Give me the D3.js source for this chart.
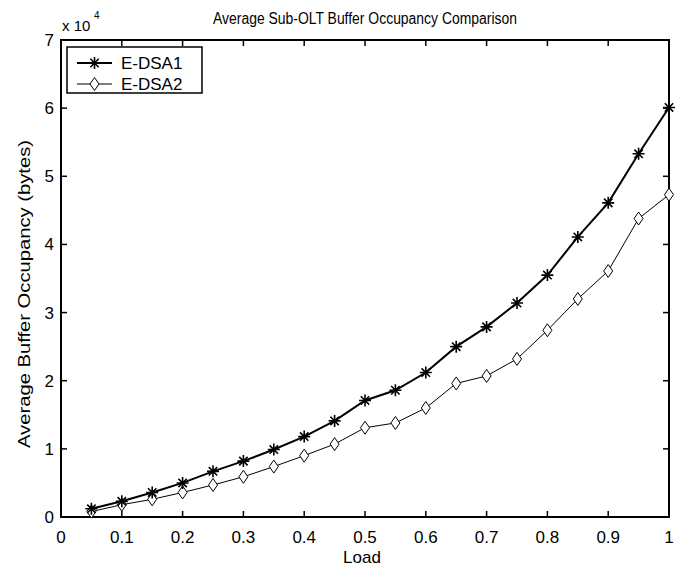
<!DOCTYPE html>
<html>
<head>
<meta charset="utf-8">
<script src="https://cdn.jsdelivr.net/npm/d3@7"></script>
<style>
  body { margin: 0; background: #fff; }
  text { font-family: "Liberation Sans", Arial, sans-serif; fill: #000; }
</style>
</head>
<body>
<div id="chart"></div>
<script>
// data (y in units of 1e4 bytes)
const loads = [0.05, 0.1, 0.15, 0.2, 0.25, 0.3, 0.35, 0.4, 0.45, 0.5,
               0.55, 0.6, 0.65, 0.7, 0.75, 0.8, 0.85, 0.9, 0.95, 1.0];
const edsa1 = [0.12, 0.23, 0.36, 0.50, 0.67, 0.82, 0.99, 1.18, 1.41, 1.71,
               1.86, 2.12, 2.50, 2.79, 3.14, 3.55, 4.11, 4.61, 5.33, 6.01];
const edsa2 = [0.08, 0.18, 0.26, 0.36, 0.47, 0.59, 0.74, 0.90, 1.07, 1.31,
               1.38, 1.60, 1.96, 2.07, 2.32, 2.74, 3.20, 3.61, 4.38, 4.73];
const xTicks = [0, 0.1, 0.2, 0.3, 0.4, 0.5, 0.6, 0.7, 0.8, 0.9, 1];
const yTicks = [0, 1, 2, 3, 4, 5, 6, 7];
const seriesNames = ["E-DSA1", "E-DSA2"];

function main(){
    let width = 681, height = 568;
    let left = 61, right = 669, top = 40, bottom = 517;

    let svg = d3.select("#chart").append("svg")
        .attr("width", width).attr("height", height);

    let x = d3.scaleLinear().domain([0, 1]).range([left, right]);
    let y = d3.scaleLinear().domain([0, 7]).range([bottom, top]);

    // ticks on all four sides, pointing inward (matlab box)
    let tl = 6;
    let tk = svg.append("g").attr("stroke", "#000").attr("stroke-width", 1.5);
    xTicks.forEach(t => {
        tk.append("line").attr("x1", x(t)).attr("x2", x(t)).attr("y1", bottom).attr("y2", bottom - tl);
        tk.append("line").attr("x1", x(t)).attr("x2", x(t)).attr("y1", top).attr("y2", top + tl);
    });
    yTicks.forEach(t => {
        tk.append("line").attr("x1", left).attr("x2", left + tl).attr("y1", y(t)).attr("y2", y(t));
        tk.append("line").attr("x1", right).attr("x2", right - tl).attr("y1", y(t)).attr("y2", y(t));
    });

    svg.append("rect")
        .attr("x", left).attr("y", top)
        .attr("width", right - left).attr("height", bottom - top)
        .attr("fill", "none").attr("stroke", "#000").attr("stroke-width", 2);

    // tick labels
    svg.append("g").selectAll("text").data(xTicks).enter().append("text")
        .attr("x", d => x(d)).attr("y", bottom + 26)
        .attr("text-anchor", "middle").attr("font-size", "17px")
        .text(d => d);
    svg.append("g").selectAll("text").data(yTicks).enter().append("text")
        .attr("x", left - 7).attr("y", d => y(d) + 6)
        .attr("text-anchor", "end").attr("font-size", "17px")
        .text(d => d);

    svg.append("text").attr("x", 62).attr("y", 31)
        .attr("font-size", "15px").text("x 10");
    svg.append("text").attr("x", 94).attr("y", 19)
        .attr("font-size", "10px").text("4");

    svg.append("text").attr("x", 365).attr("y", 24)
        .attr("text-anchor", "middle").attr("font-size", "16px")
        .attr("textLength", 304).attr("lengthAdjust", "spacingAndGlyphs")
        .text("Average Sub-OLT Buffer Occupancy Comparison");

    svg.append("text").attr("x", 362).attr("y", 563)
        .attr("text-anchor", "middle").attr("font-size", "17px")
        .text("Load");

    svg.append("text")
        .attr("transform", "translate(30,294) rotate(-90)")
        .attr("text-anchor", "middle").attr("font-size", "16px")
        .attr("textLength", 308).attr("lengthAdjust", "spacingAndGlyphs")
        .text("Average Buffer Occupancy (bytes)");

    let line = d3.line().x(d => x(d[0])).y(d => y(d[1]));
    let s1 = loads.map((l, i) => [l, edsa1[i]]);
    let s2 = loads.map((l, i) => [l, edsa2[i]]);

    svg.append("path").datum(s2).attr("d", line)
        .attr("fill", "none").attr("stroke", "#000").attr("stroke-width", 1);
    svg.append("path").datum(s1).attr("d", line)
        .attr("fill", "none").attr("stroke", "#000").attr("stroke-width", 2);

    function star(g, cx, cy, r){
        let p = "M" + (cx - r) + "," + cy + "h" + (2 * r)
              + "M" + cx + "," + (cy - r) + "v" + (2 * r)
              + "M" + (cx - r * 0.7) + "," + (cy - r * 0.7) + "l" + (1.4 * r) + "," + (1.4 * r)
              + "M" + (cx - r * 0.7) + "," + (cy + r * 0.7) + "l" + (1.4 * r) + "," + (-1.4 * r);
        g.append("path").attr("d", p).attr("stroke", "#000").attr("stroke-width", 1.6).attr("fill", "none");
    }
    function diamond(g, cx, cy, w, h){
        g.append("path")
            .attr("d", "M" + cx + "," + (cy - h) + "L" + (cx + w) + "," + cy + "L" + cx + "," + (cy + h) + "L" + (cx - w) + "," + cy + "Z")
            .attr("fill", "#fff").attr("stroke", "#000").attr("stroke-width", 1);
    }

    let mk = svg.append("g");
    s2.forEach(d => diamond(mk, x(d[0]), y(d[1]), 4.5, 6.5));
    s1.forEach(d => star(mk, x(d[0]), y(d[1]), 6));

    // legend
    let lg = svg.append("g");
    lg.append("rect").attr("x", 67).attr("y", 47).attr("width", 135).attr("height", 46)
        .attr("fill", "#fff").attr("stroke", "#000").attr("stroke-width", 1.5);
    let ly = [63, 84];
    lg.append("line").attr("x1", 77).attr("x2", 112).attr("y1", ly[0]).attr("y2", ly[0])
        .attr("stroke", "#000").attr("stroke-width", 2);
    star(lg, 94.5, ly[0], 6);
    lg.append("line").attr("x1", 77).attr("x2", 112).attr("y1", ly[1]).attr("y2", ly[1])
        .attr("stroke", "#000").attr("stroke-width", 1);
    diamond(lg, 94.5, ly[1], 4.5, 6.5);
    seriesNames.forEach((n, i) => {
        lg.append("text").attr("x", 121).attr("y", ly[i] + 6).attr("font-size", "17px").text(n);
    });
}

window.onload = () => { main(); };
</script>
</body>
</html>
